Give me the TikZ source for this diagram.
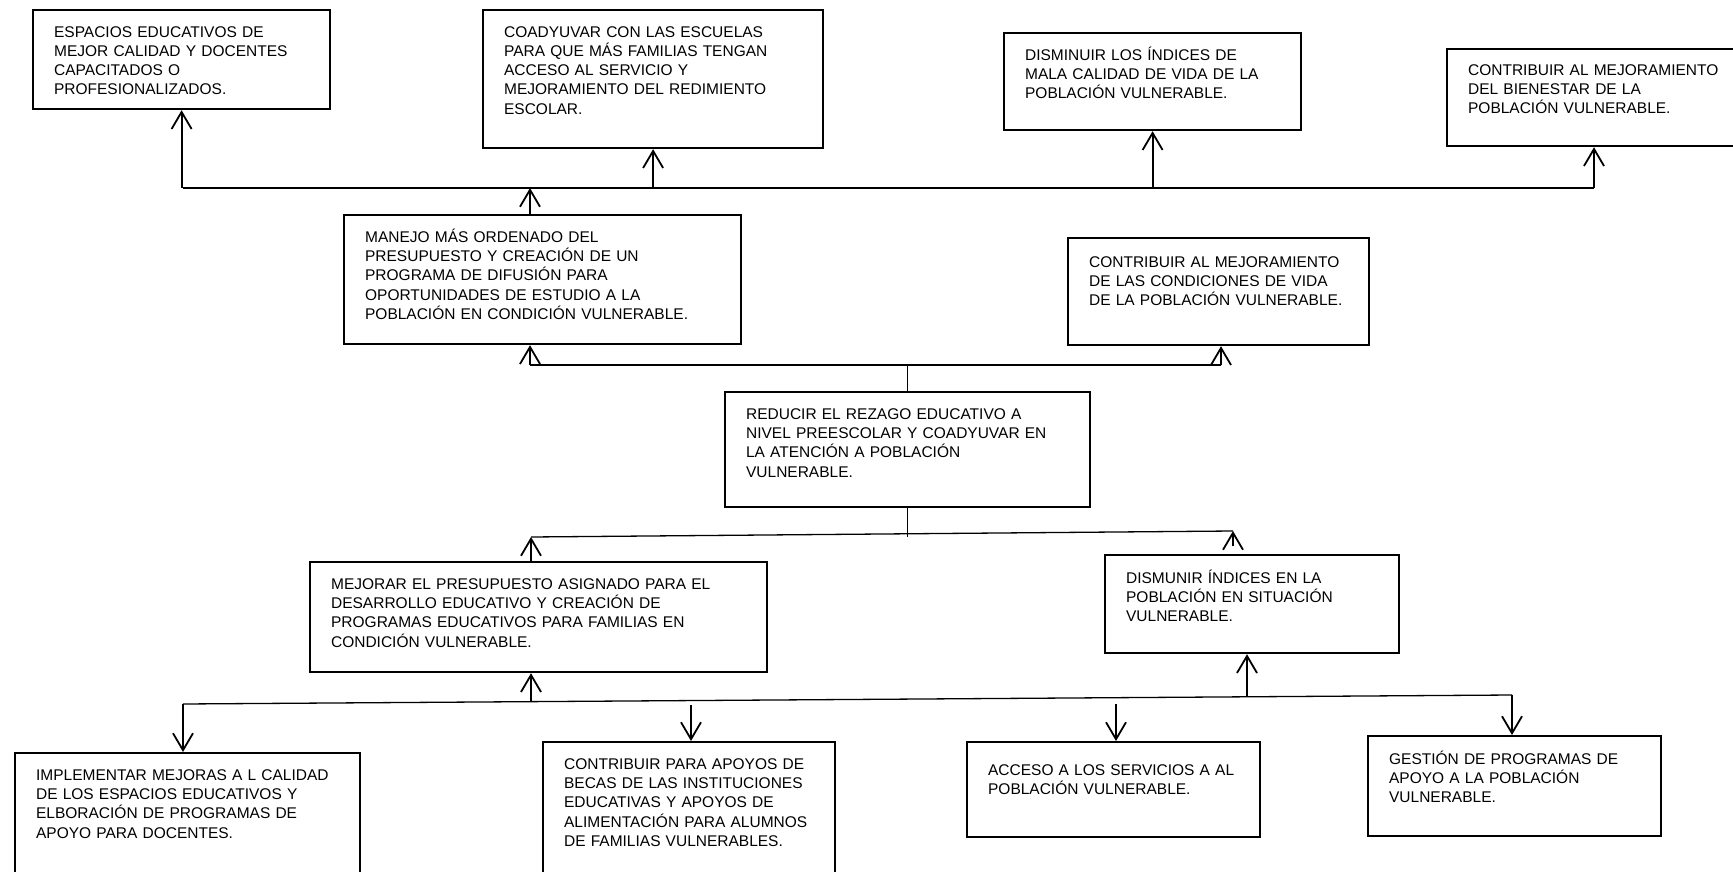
\documentclass[tikz,border=0pt]{standalone}
\usepackage{fontspec}
\setmainfont{Liberation Sans}
\usetikzlibrary{arrows.meta}

\begin{document}
\begin{tikzpicture}[
    x=1pt, y=-1pt,
    >={Straight Barb[length=17pt, width=20pt]},
    box/.style={draw, line width=2.2pt, anchor=north west, align=left, inner xsep=21pt, inner ysep=0pt,
      text height=27pt, font=\fontsize{15.5}{19.3}\selectfont},
    link/.style={line width=1.8pt},
    thinlink/.style={line width=1.3pt}
  ]

  \path[use as bounding box, fill=white] (0,0) rectangle (1733,872);
  \clip (0,0) rectangle (1733,872);

  % Upper row of boxes
  \node[box, text width=255pt, text depth=72pt] (espacios) at (32,9) {
    ESPACIOS EDUCATIVOS DE\\
    MEJOR CALIDAD Y DOCENTES\\
    CAPACITADOS O\\
    PROFESIONALIZADOS.
  };

  \node[box, text width=298pt, text depth=111pt] (coadyuvar) at (482,9) {
    COADYUVAR CON LAS ESCUELAS\\
    PARA QUE MÁS FAMILIAS TENGAN\\
    ACCESO AL SERVICIO Y\\
    MEJORAMIENTO DEL REDIMIENTO\\
    ESCOLAR.
  };

  \node[box, text width=255pt, text depth=70pt] (indices) at (1003,32) {
    DISMINUIR LOS ÍNDICES DE\\
    MALA CALIDAD DE VIDA DE LA\\
    POBLACIÓN VULNERABLE.
  };

  \node[box, text width=258pt, text height=26pt, text depth=71pt] (bienestar) at (1446,48) {
    CONTRIBUIR AL MEJORAMIENTO\\
    DEL BIENESTAR DE LA\\
    POBLACIÓN VULNERABLE.
  };

  % Middle boxes
  \node[box, text width=355pt, text depth=102pt] (manejo) at (343,214) {
    MANEJO MÁS ORDENADO DEL\\
    PRESUPUESTO Y CREACIÓN DE UN\\
    PROGRAMA DE DIFUSIÓN PARA\\
    OPORTUNIDADES DE ESTUDIO A LA\\
    POBLACIÓN EN CONDICIÓN VULNERABLE.
  };

  \node[box, text width=259pt, text height=29pt, text depth=78pt] (condiciones) at (1067,237) {
    CONTRIBUIR AL MEJORAMIENTO\\
    DE LAS CONDICIONES DE VIDA\\
    DE LA POBLACIÓN VULNERABLE.
  };

  \node[box, text width=323pt, text depth=88pt] (reducir) at (724,391) {
    REDUCIR EL REZAGO EDUCATIVO A\\
    NIVEL PREESCOLAR Y COADYUVAR EN\\
    LA ATENCIÓN A POBLACIÓN\\
    VULNERABLE.
  };

  \node[box, text width=415pt, text depth=83pt] (presupuesto) at (309,561) {
    MEJORAR EL PRESUPUESTO ASIGNADO PARA EL\\
    DESARROLLO EDUCATIVO Y CREACIÓN DE\\
    PROGRAMAS EDUCATIVOS PARA FAMILIAS EN\\
    CONDICIÓN VULNERABLE.
  };

  \node[box, text width=252pt, text height=28pt, text depth=70pt] (dismunir) at (1104,554) {
    DISMUNIR ÍNDICES EN LA\\
    POBLACIÓN EN SITUACIÓN\\
    VULNERABLE.
  };

  % Lower row of boxes
  \node[box, text width=303pt, text depth=113pt] (implementar) at (14,752) {
    IMPLEMENTAR MEJORAS A L CALIDAD\\
    DE LOS ESPACIOS EDUCATIVOS Y\\
    ELBORACIÓN DE PROGRAMAS DE\\
    APOYO PARA DOCENTES.
  };

  \node[box, text width=250pt, text depth=123pt] (becas) at (542,741) {
    CONTRIBUIR PARA APOYOS DE\\
    BECAS DE LAS INSTITUCIONES\\
    EDUCATIVAS Y APOYOS DE\\
    ALIMENTACIÓN PARA ALUMNOS\\
    DE FAMILIAS VULNERABLES.
  };

  \node[box, text width=251pt, text height=33pt, text depth=62pt] (acceso) at (966,741) {
    ACCESO A LOS SERVICIOS A AL\\
    POBLACIÓN VULNERABLE.
  };

  \node[box, text width=251pt, text height=28pt, text depth=72pt] (gestion) at (1367,735) {
    GESTIÓN DE PROGRAMAS DE\\
    APOYO A LA POBLACIÓN\\
    VULNERABLE.
  };

  % Bar ends and junctions
  \coordinate (topL) at (183,188);
  \coordinate (topR) at (1594,188);
  \coordinate (midL) at (530,365);
  \coordinate (midR) at (1221,365);
  \coordinate (lowL) at (531,537);
  \coordinate (lowR) at (1233,531);
  \coordinate (botL) at (183,704);
  \coordinate (botR) at (1512,695);
  \coordinate (upH) at (531,701);
  \coordinate (upI) at (1247,697);
  \coordinate (downK) at (691,705);
  \coordinate (downL) at (1116,704);

  % Top bar
  \draw[link] (topL) -- (topR);
  \foreach \n in {espacios, coadyuvar, indices}
    \draw[link, ->] (\n.south |- topL) -- (\n.south);
  \draw[link, ->] (topR) -- (topR |- bienestar.south);
  \draw[link, ->] (midL |- manejo.north) -- (midL |- topL);

  % Middle bar
  \draw[thinlink] (midL) -- (midR);
  \draw[link, ->] (midL) -- (midL |- manejo.south);
  \draw[link, ->] (midR) -- (midR |- condiciones.south);
  \draw[thinlink] (reducir.north) -- (reducir.north |- midL);

  % Lower middle bar
  \draw[thinlink] (lowL) -- (lowR);
  \draw[thinlink] (reducir.south) -- (reducir.south |- lowL);
  \draw[link, ->] (lowL |- presupuesto.north) -- (lowL);
  \draw[link, ->] ([yshift=8pt]lowR |- dismunir.north) -- (lowR);

  % Bottom bar
  \draw[thinlink] (botL) -- (botR);
  \draw[link, ->] (upH) -- (upH |- presupuesto.south);
  \draw[link, ->] (upI) -- (upI |- dismunir.south);
  \draw[link, ->] (botL) -- (botL |- implementar.north);
  \draw[link, ->] (downK) -- (downK |- becas.north);
  \draw[link, ->] (downL) -- (downL |- acceso.north);
  \draw[link, ->] (botR) -- (botR |- gestion.north);

\end{tikzpicture}
\end{document}
